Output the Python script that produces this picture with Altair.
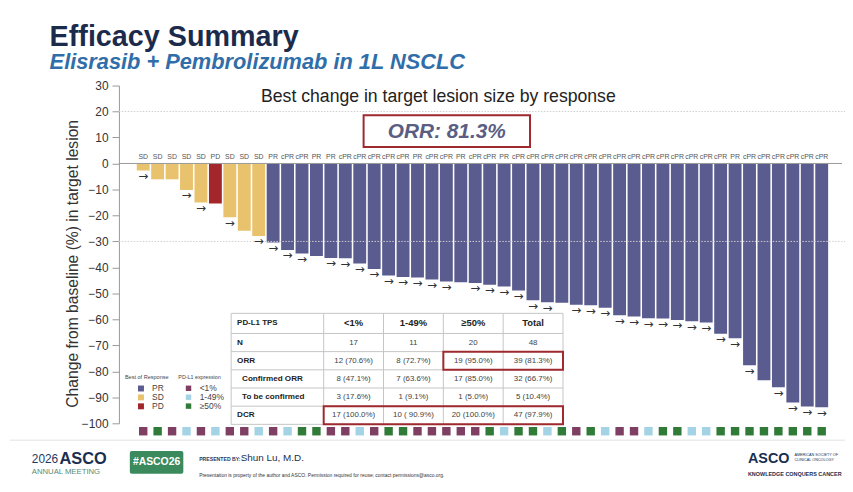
import altair as alt
import pandas as pd

FONT = "Liberation Sans"

# ---------------- data ----------------
best_response = ["SD", "SD", "SD", "SD", "SD", "PD", "SD", "SD", "SD", "PR",
                 "cPR", "cPR", "PR", "PR", "cPR", "cPR", "cPR", "cPR", "cPR", "PR",
                 "cPR", "cPR", "PR", "cPR", "cPR", "PR", "cPR", "cPR", "cPR", "cPR",
                 "cPR", "cPR", "cPR", "cPR", "cPR", "cPR", "cPR", "cPR", "cPR", "cPR",
                 "cPR", "PR", "cPR", "cPR", "cPR", "cPR", "cPR", "cPR"]
best_change = [-2.7, -6.1, -6.1, -10.2, -15.0, -15.4, -20.7, -25.9, -27.9, -30.4,
               -33.3, -34.6, -35.6, -36.4, -36.5, -38.5, -40.6, -43.1, -43.7, -43.9,
               -44.7, -45.4, -45.7, -46.0, -46.7, -47.3, -48.9, -52.6, -53.4, -53.6,
               -54.4, -54.6, -55.5, -58.4, -58.9, -59.6, -59.7, -60.2, -60.7, -61.2,
               -65.5, -67.3, -77.7, -83.4, -86.1, -92.0, -93.5, -93.8]
ongoing = [1, 0, 0, 1, 1, 0, 1, 0, 1, 1,
           1, 1, 0, 1, 1, 1, 1, 1, 1, 1,
           1, 1, 0, 1, 1, 1, 1, 1, 1, 0,
           1, 1, 1, 1, 1, 1, 1, 1, 1, 1,
           1, 1, 1, 0, 1, 1, 1, 1]
pdl1_expression = ["<1%", "≥50%", "<1%", "1-49%", "<1%", "1-49%", "<1%", "<1%", "1-49%", "<1%",
                   "1-49%", "≥50%", "≥50%", "<1%", "<1%", "1-49%", "<1%", "≥50%", "≥50%", "<1%",
                   "<1%", "<1%", "<1%", "<1%", "≥50%", "1-49%", "≥50%", "≥50%", "1-49%", "≥50%",
                   "<1%", "≥50%", "1-49%", "<1%", "<1%", "1-49%", "≥50%", "≥50%", "1-49%", "1-49%",
                   "≥50%", "≥50%", "≥50%", "≥50%", "≥50%", "≥50%", "≥50%", "≥50%"]

response_groups = ["PR", "SD", "PD"]
response_colors = ["#5a5b8e", "#e8c26c", "#a3262c"]
pdl1_levels = ["<1%", "1-49%", "≥50%"]
pdl1_colors = ["#7e3f63", "#a3d3e4", "#2f7b37"]
ref_lines = [20, -30]
y_ticks = list(range(-100, 31, 10))

table_header = ["PD-L1 TPS", "<1%", "1-49%", "≥50%", "Total"]
table_rows = ["N", "ORR", "Confirmed ORR", "To be confirmed", "DCR"]
col_lt1 = ["17", "12 (70.6%)", "8 (47.1%)", "3 (17.6%)", "17 (100.0%)"]
col_1_49 = ["11", "8 (72.7%)", "7 (63.6%)", "1 (9.1%)", "10 ( 90.9%)"]
col_ge50 = ["20", "19 (95.0%)", "17 (85.0%)", "1 (5.0%)", "20 (100.0%)"]
col_total = ["48", "39 (81.3%)", "32 (66.7%)", "5 (10.4%)", "47 (97.9%)"]

# ---------------- layout ----------------
OX, OY = 120, 84          # page position of plot origin
W, H = 733, 341
xs = alt.Scale(domain=[-0.681, 49.614], nice=False, zero=False)
ys = alt.Scale(domain=[-100, 30], nice=False, zero=False)
y_axis = alt.Axis(values=y_ticks, tickSize=7, labelFontSize=12, labelColor="#333",
                  labelFont=FONT, domainColor="#999", tickColor="#999", tickCount=14,
                  labelPadding=4, grid=False, labelOverlap=False, labelFlush=False, title=None)

df = pd.DataFrame({
    "idx": list(range(1, len(best_change) + 1)),
    "change": best_change,
    "resp": best_response,
    "group": ["PR" if r in ("PR", "cPR") else r for r in best_response],
    "pdl1": pdl1_expression,
    "ongoing": ongoing,
})
base = alt.Chart(df).transform_calculate(
    x0="datum.idx - 0.446", x1="datum.idx + 0.446", zero="0")

leg_common = dict(orient="none", direction="vertical", symbolType="square",
                  labelOffset=7, labelFontSize=8.5, titleFontWeight="normal", titleColor="#444",
                  labelColor="#444", titlePadding=4, rowPadding=-1, padding=0,
                  labelFont=FONT, titleFont=FONT, symbolStrokeWidth=0)

bars = base.mark_bar().encode(
    x=alt.X("x0:Q", scale=xs, axis=None),
    x2="x1:Q",
    y=alt.Y("change:Q", scale=ys, axis=y_axis),
    y2="zero:Q",
    color=alt.Color("group:N", scale=alt.Scale(domain=response_groups, range=response_colors),
                    legend=alt.Legend(title="Best of Response", legendX=6, legendY=292,
                                      symbolSize=36, symbolOffset=12, titleFontSize=5.6,
                                      **leg_common)),
)

zero_line = alt.Chart(pd.DataFrame({"y": [0]})).mark_rule(color="#9a9a9a", strokeWidth=1).encode(
    y=alt.Y("y:Q", scale=ys, axis=y_axis), x=alt.value(0), x2=alt.value(730))

refs = alt.Chart(pd.DataFrame({"y": ref_lines})).mark_rule(
    color="#cfcfcf", strokeWidth=1, strokeDash=[1.5, 1.5]).encode(
    y=alt.Y("y:Q", scale=ys, axis=y_axis), x=alt.value(0), x2=alt.value(W))

labels = base.mark_text(dy=-6.6, fontSize=7, color="#555", font=FONT, baseline="middle").encode(
    x=alt.X("idx:Q", scale=xs, axis=None), y=alt.Y("zero:Q", scale=ys, axis=y_axis), text="resp:N")

arrows = base.transform_filter("datum.ongoing == 1").mark_text(
    text="→", dy=5.5, fontSize=12, color="#333", font="DejaVu Sans", baseline="middle").encode(
    x=alt.X("idx:Q", scale=xs, axis=None), y=alt.Y("change:Q", scale=ys, axis=y_axis))

squares = base.mark_square(size=72, opacity=1).encode(
    x=alt.X("idx:Q", scale=xs, axis=None),
    y=alt.value(349),
    color=alt.Color("pdl1:N", scale=alt.Scale(domain=pdl1_levels, range=pdl1_colors),
                    legend=alt.Legend(title="PD-L1 expression", legendX=60, legendY=292,
                                      symbolSize=30, symbolOffset=6, titleFontSize=5.4,
                                      **leg_common)),
)

inner = alt.layer(bars, zero_line, refs, labels, arrows, squares).resolve_scale(color="independent")

# ---------------- decorations (pixel placed) ----------------
def T(items, **kw):
    d = pd.DataFrame(items, columns=["X", "Y", "t"])
    d["px"] = d["X"] - OX
    d["py"] = d["Y"] - OY
    kw.setdefault("font", FONT)
    return alt.Chart(d).mark_text(**kw).encode(
        x=alt.X("px:Q", scale=None, axis=None), y=alt.Y("py:Q", scale=None, axis=None), text="t:N")


def R(rows, mark="rect", **kw):
    d = pd.DataFrame(rows, columns=["X0", "Y0", "X1", "Y1"])
    d = d.assign(a=d.X0 - OX, b=d.Y0 - OY, c=d.X1 - OX, e=d.Y1 - OY)
    ch = alt.Chart(d)
    ch = ch.mark_rect(**kw) if mark == "rect" else ch.mark_rule(**kw)
    return ch.encode(x=alt.X("a:Q", scale=None, axis=None), x2="c:Q",
                     y=alt.Y("b:Q", scale=None, axis=None), y2="e:Q")


decor = []
decor.append(T([(50, 44, "Efficacy Summary")], fontSize=29, fontWeight="bold", color="#1c2a4c",
               align="left", baseline="alphabetic"))
decor.append(T([(50, 67, "Elisrasib + Pembrolizumab in 1L NSCLC")], fontSize=22, fontWeight="bold",
               fontStyle="italic", color="#2f6ea9", align="left", baseline="alphabetic"))
decor.append(T([(442.5, 101, "Best change in target lesion size by response")], fontSize=17.8,
               color="#222", align="center", baseline="alphabetic"))
decor.append(R([(367, 114, 535, 146)], fill="white", stroke="#9e2a2f", strokeWidth=2))
decor.append(T([(451, 130.5, "ORR: 81.3%")], fontSize=21, fontWeight="bold", fontStyle="italic",
               color="#5b5e82", align="center", baseline="middle"))
decor.append(T([(74, 264, "Change from baseline (%) in target lesion")], fontSize=15.8, angle=270,
               color="#333", align="center", baseline="middle"))

# table
TX0, TX1, TY0 = 233.3, 568.3, 314.0
HDR_H, ROW_H = 20.3, 18.35
C0W, CW = 93.4, 60.4
col_x = [TX0 + C0W + i * CW for i in range(4)]
row_y = [TY0 + HDR_H + i * ROW_H for i in range(len(table_rows))]
TY1 = row_y[-1] + ROW_H
decor.append(R([(TX0, TY0, TX1, TY1)], fill="white", stroke="#c4c4c4", strokeWidth=1))
decor.append(R([(TX0, y, TX1, y) for y in row_y], mark="rule", color="#c4c4c4", strokeWidth=1))
decor.append(R([(x, TY0, x, TY1) for x in col_x], mark="rule", color="#c4c4c4", strokeWidth=1))

decor.append(T([(TX0 + 6, TY0 + HDR_H / 2, table_header[0])], fontSize=8, fontWeight="bold",
               color="#222", align="left", baseline="middle"))
decor.append(T([(col_x[i] + CW / 2, TY0 + HDR_H / 2, h) for i, h in enumerate(table_header[1:])],
               fontSize=9.5, fontWeight="bold", color="#222", align="center", baseline="middle"))
decor.append(T([(TX0 + (11 if i in (2, 3) else 6), y + ROW_H / 2, lab)
                for i, (lab, y) in enumerate(zip(table_rows, row_y))],
               fontSize=8.2, fontWeight="bold", color="#222", align="left", baseline="middle"))
cells = []
for ci, col in enumerate([col_lt1, col_1_49, col_ge50, col_total]):
    for ri, v in enumerate(col):
        cells.append((col_x[ci] + CW / 2, row_y[ri] + ROW_H / 2, v))
decor.append(T(cells, fontSize=8, color="#444", align="center", baseline="middle"))
decor.append(R([(col_x[2], row_y[1], TX1, row_y[2]), (col_x[0], row_y[4], TX1, TY1)],
               fillOpacity=0, stroke="#9e2a2f", strokeWidth=2))

# footer
decor.append(R([(10, 442, 853, 442)], mark="rule", color="#e2e2e2", strokeWidth=1))
decor.append(T([(32, 461, "2026")], fontSize=12, color="#1f3a5f", align="left", baseline="middle"))
decor.append(T([(60, 461, "ASCO")], fontSize=16.5, fontWeight="bold", color="#1a2e50",
               align="left", baseline="middle"))
decor.append(T([(32, 474, "ANNUAL MEETING")], fontSize=7.8, color="#5a8a72", align="left",
               baseline="middle"))
decor.append(R([(131, 453, 185, 476)], fill="#3b8a5d", cornerRadius=2))
decor.append(T([(158, 464.5, "#ASCO26")], fontSize=10.5, fontWeight="bold", color="white",
               align="center", baseline="middle"))
decor.append(T([(201, 461, "PRESENTED BY:")], fontSize=5.2, fontWeight="bold", color="#1f3a5f",
               align="left", baseline="middle"))
decor.append(T([(243, 460, "Shun Lu, M.D.")], fontSize=10, color="#1d2f4f", align="left",
               baseline="middle"))
decor.append(T([(201, 477, "Presentation is property of the author and ASCO. Permission required for reuse; "
                           "contact permissions@asco.org.")], fontSize=5, color="#333", align="left",
               baseline="middle"))
decor.append(T([(755, 461, "ASCO")], fontSize=14.5, fontWeight="bold", color="#1a2e50", align="left",
               baseline="middle"))
decor.append(T([(802, 457, "AMERICAN SOCIETY OF"), (802, 462, "CLINICAL ONCOLOGY")], fontSize=3.8,
               color="#1a2e50", align="left", baseline="middle"))
decor.append(T([(755, 476, "KNOWLEDGE CONQUERS CANCER")], fontSize=5.5, fontWeight="bold",
               color="#1a2e50", align="left", baseline="middle"))

decor_layer = alt.layer(*decor)

chart = alt.layer(inner, decor_layer).resolve_scale(x="independent", y="independent").properties(
    width=W, height=H,
    autosize=alt.AutoSizeParams(type="none"),
    padding={"left": OX - 8, "top": OY - 8, "right": 0, "bottom": 476 - (OY - 8) - H},
    background="white",
).configure_view(stroke=None)

chart.save("out.html", embed_options={"renderer": "svg", "actions": False})
